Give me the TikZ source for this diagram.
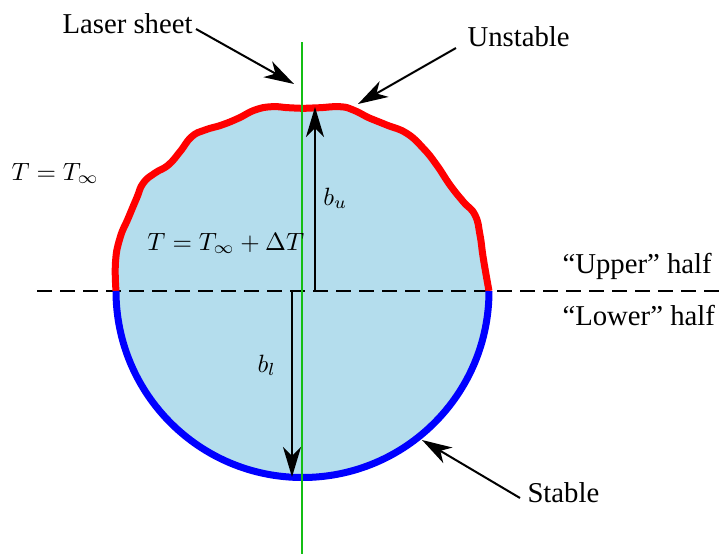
\documentclass[tikz,border=0pt]{standalone}
\usepackage{fontspec}
\setmainfont{Liberation Serif}
\usetikzlibrary{arrows.meta}
\definecolor{dropfill}{RGB}{180,221,237}
\definecolor{sheetgreen}{RGB}{20,190,20}
\begin{document}
\begin{tikzpicture}[x=0.4pt,y=-0.4pt,
  txt/.style={font=\fontsize{11.5}{14}\selectfont, inner sep=0pt},
  mth/.style={font=\fontsize{10.1}{12}\selectfont, inner sep=0pt},
  arr/.style={draw=black, line width=0.8pt, -{Stealth[length=12pt,width=7.2pt,inset=3.5pt]}},
  halfline/.style={draw=black, line width=0.9pt, dash pattern=on 6pt off 3.2pt},
  sheet/.style={draw=sheetgreen, line width=0.8pt},
  unstab/.style={draw=red, line width=2.8pt},
  stab/.style={draw=blue, line width=2.8pt}]
\useasboundingbox (0,0) rectangle (722,554);
% droplet fill
\fill[dropfill] (116,291) -- plot[smooth, tension=0.8] coordinates {(116,291) (115.5,262) (120,238) (128.3,218) (136.7,198) (143.3,183) (155,173) (168.3,165) (180,151.7) (191.7,136.7) (205,130) (221.7,125) (238.3,118.3) (255,110) (271.7,106.7) (288.3,107.7) (305,108.3) (320,107.7) (340,106.7) (353.3,110) (370,118.3) (386.7,125) (406.7,133.3) (423.3,148.3) (436.7,165) (450,185) (463.3,201.7) (475,215) (480,235) (483.3,258.3) (489,291)} arc[start angle=0, end angle=180, radius=186.5] -- cycle;
% dashed dividing line
\coordinate (dl) at (37,291);
\coordinate (dr) at (722,291);
\draw[halfline] (dl) -- (dr);
% interfaces
\draw[unstab] plot[smooth, tension=0.8] coordinates {(116,291) (115.5,262) (120,238) (128.3,218) (136.7,198) (143.3,183) (155,173) (168.3,165) (180,151.7) (191.7,136.7) (205,130) (221.7,125) (238.3,118.3) (255,110) (271.7,106.7) (288.3,107.7) (305,108.3) (320,107.7) (340,106.7) (353.3,110) (370,118.3) (386.7,125) (406.7,133.3) (423.3,148.3) (436.7,165) (450,185) (463.3,201.7) (475,215) (480,235) (483.3,258.3) (489,291)};
\coordinate (re) at (489,291);
\draw[stab] (re) arc[start angle=0, end angle=180, radius=186.5];
% laser sheet
\coordinate (gtop) at (302,42);
\coordinate (gbot) at (302,554);
\draw[sheet] (gtop) -- (gbot);
% radii
\coordinate (bu0) at (315,291);
\coordinate (bu1) at (315,107);
\draw[arr] (bu0) -- (bu1);
\coordinate (bl0) at (292,291);
\coordinate (bl1) at (292,477);
\draw[arr] (bl0) -- (bl1);
\node[mth, anchor=base west] (bu) at (323,205) {$b_u$};
\node[mth, anchor=base west] (bl) at (257,372) {$b_l$};
% temperatures
\node[mth, anchor=base west] (tinf) at (11,180) {$T=T_\infty$};
\node[mth, anchor=base west] (tdrop) at (147,250) {$T=T_\infty+\Delta T$};
% halves
\node[txt, anchor=base west] (upper) at (562,273) {“Upper” half};
\node[txt, anchor=base west] (lower) at (562,325) {“Lower” half};
% callouts
\node[txt, anchor=base west] (laser) at (62,33) {Laser sheet};
\coordinate (la0) at (196,29);
\coordinate (la1) at (294,84);
\draw[arr] (la0) -- (la1);
\node[txt, anchor=base west] (unst) at (467,46) {Unstable};
\coordinate (un0) at (456,48);
\coordinate (un1) at (358,104);
\draw[arr] (un0) -- (un1);
\node[txt, anchor=base west] (stable) at (527,502) {Stable};
\coordinate (st0) at (520,498);
\coordinate (st1) at (422,440);
\draw[arr] (st0) -- (st1);
\end{tikzpicture}
\end{document}
